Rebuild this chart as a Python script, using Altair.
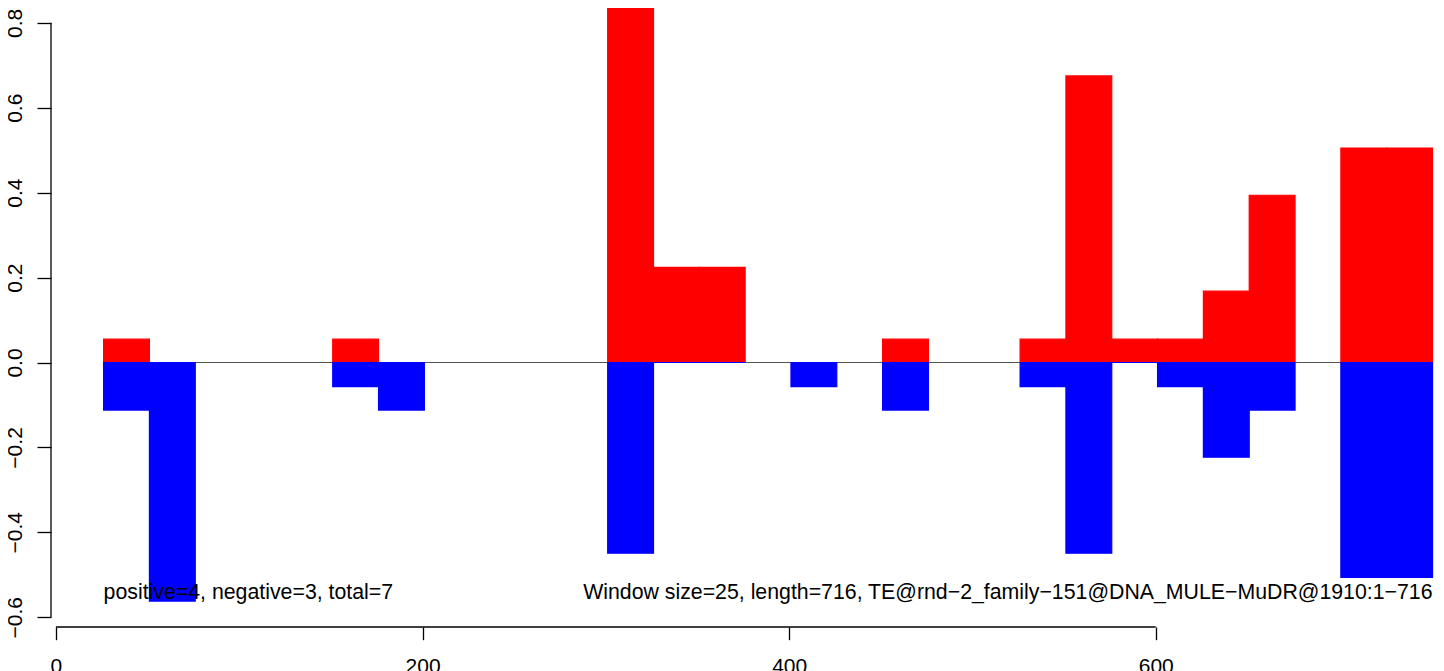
import altair as alt
import pandas as pd

# window starts (window size 25) and the positive / negative values per window
starts = [26, 51, 151, 176, 301, 326, 351, 401, 451, 526, 551, 576, 601, 626, 651, 701, 726]
positive = [0.055, 0.0, 0.055, 0.0, 0.844, 0.224, 0.224, 0.0, 0.055, 0.055, 0.675, 0.055, 0.055, 0.168, 0.394, 0.505, 0.505]
negative = [-0.112, -0.562, -0.057, -0.112, -0.449, 0.0, 0.0, -0.057, -0.112, -0.057, -0.449, 0.0, -0.057, -0.223, -0.112, -0.506, -0.506]
window = 25

x_ticks = [0, 200, 400, 600]
y_ticks = [-0.6, -0.4, -0.2, 0.0, 0.2, 0.4, 0.6, 0.8]

left_text = "positive=4, negative=3, total=7"
right_text = "Window size=25, length=716, TE@rnd\u22122_family\u2212151@DNA_MULE\u2212MuDR@1910:1\u2212716"

x_domain = [-2.7, 752.9]
y_domain = [-0.623, 0.835]

FONT = "Liberation Sans"

df = pd.DataFrame({
    "start": starts,
    "end": [s + window for s in starts],
    "pos": positive,
    "neg": negative,
})

xs = alt.Scale(domain=x_domain, nice=False, zero=False)
ys = alt.Scale(domain=y_domain, nice=False, zero=False)

x_axis = alt.Axis(values=x_ticks, domain=False, grid=False, tickSize=12.7, tickWidth=1.3,
                  tickColor="black", labelFont=FONT, labelFontSize=21, labelColor="black",
                  labelBaseline="alphabetic", labelPadding=32.6, labelFlush=False,
                  labelOverlap=False, title=None, format="d")
y_axis = alt.Axis(values=y_ticks, domain=False, grid=False, tickSize=14, tickWidth=1.3,
                  tickColor="black", labelFont=FONT, labelFontSize=21, labelColor="black",
                  labelAngle=270, labelAlign="center", labelBaseline="alphabetic",
                  labelPadding=16, labelFlush=False, labelOverlap=False, title=None, format=".1f")

base = alt.Chart(df)

zero_df = pd.DataFrame({"x": [starts[0]], "x2": [starts[-1] + window], "y": [0.0]})
zero_line = alt.Chart(zero_df).mark_rule(color="#555555", strokeWidth=1).encode(
    x=alt.X("x:Q", scale=xs, axis=x_axis),
    x2="x2:Q",
    y=alt.Y("y:Q", scale=ys, axis=y_axis),
)

red = base.mark_rect(color="#FF0000", stroke="#FF0000", strokeWidth=1.2).encode(
    x=alt.X("start:Q", scale=xs),
    x2="end:Q",
    y=alt.Y("pos:Q", scale=ys),
    y2=alt.datum(0),
)
blue = base.mark_rect(color="#0000FF", stroke="#0000FF", strokeWidth=1.2).encode(
    x=alt.X("start:Q", scale=xs),
    x2="end:Q",
    y=alt.Y("neg:Q", scale=ys),
    y2=alt.datum(0),
)

xline_df = pd.DataFrame({"x": [x_ticks[0]], "x2": [x_ticks[-1]], "y": [y_domain[0]]})
x_line = alt.Chart(xline_df).mark_rule(color="black", strokeWidth=1.3).encode(
    x=alt.X("x:Q", scale=xs), x2="x2:Q", y=alt.Y("y:Q", scale=ys)
)
yline_df = pd.DataFrame({"y": [y_ticks[0]], "y2": [y_ticks[-1]], "x": [x_domain[0]]})
y_line = alt.Chart(yline_df).mark_rule(color="black", strokeWidth=1.3).encode(
    y=alt.Y("y:Q", scale=ys), y2="y2:Q", x=alt.X("x:Q", scale=xs)
)

text_df = pd.DataFrame({
    "x": [starts[0], starts[-1] + window],
    "y": [-0.558, -0.558],
    "label": [left_text, right_text],
})
t_left = alt.Chart(text_df.iloc[[0]]).mark_text(
    align="left", baseline="alphabetic", font=FONT, fontSize=21.3, color="black"
).encode(x=alt.X("x:Q", scale=xs), y=alt.Y("y:Q", scale=ys), text="label:N")
t_right = alt.Chart(text_df.iloc[[1]]).mark_text(
    align="right", baseline="alphabetic", font=FONT, fontSize=21.3, color="black"
).encode(x=alt.X("x:Q", scale=xs), y=alt.Y("y:Q", scale=ys), text="label:N")

chart = alt.layer(zero_line, red, blue, x_line, y_line, t_left, t_right).properties(
    width=1385,
    height=619,
    background="white",
    autosize=alt.AutoSizeParams(type="none"),
    padding={"left": 43, "top": 0, "right": 0, "bottom": 50},
).configure_view(stroke=None)

chart.save("out.html", embed_options={"renderer": "svg", "actions": False})
